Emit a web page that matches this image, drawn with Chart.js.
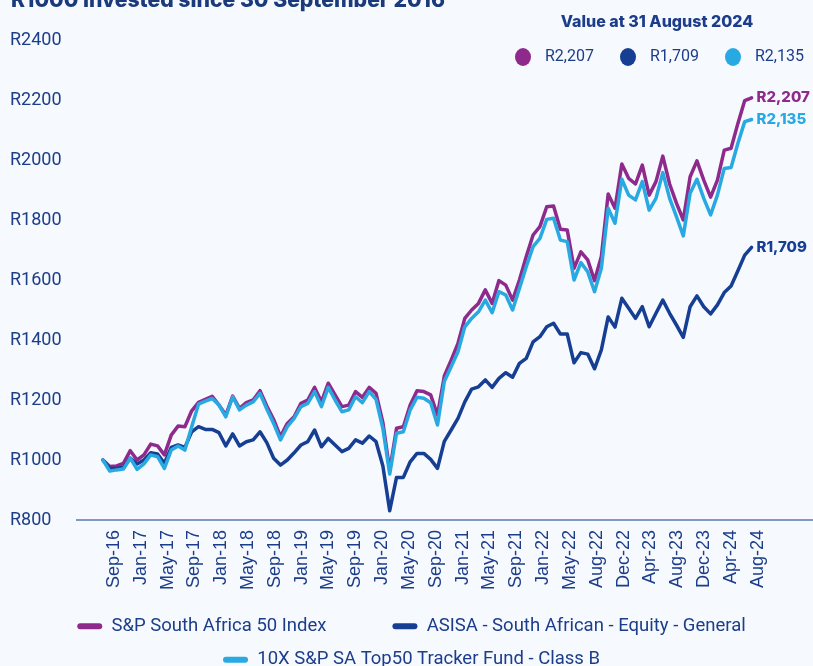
<!DOCTYPE html>
<html>
<head>
<meta charset="utf-8">
<script src="https://cdn.jsdelivr.net/npm/chart.js@4.4.1/dist/chart.umd.min.js"></script>
<style>
    html, body { margin: 0; padding: 0; background: #f6f9fe; overflow: hidden; }
    #wrap { position: relative; width: 813px; height: 679px; }
</style>
</head>
<body>
<div id="wrap"><canvas id="fundChart"></canvas></div>
<script>
// tick labels on the x axis (as printed on the original)
const tickLabels = ["Sep-16", "Jan-17", "May-17", "Sep-17", "Jan-18", "May-18", "Sep-18", "Jan-19",
    "May-19", "Sep-19", "Jan-20", "May-20", "Sep-20", "Jan-21", "May-21", "Sep-21", "Jan-22",
    "May-22", "Aug-22", "Dec-22", "Apr-23", "Aug-23", "Dec-23", "Apr-24", "Aug-24"];

const seriesNames = ["S&P South Africa 50 Index", "ASISA - South African - Equity - General", "10X S&P SA Top50 Tracker Fund - Class B"];
const finalValues = ["R2,207", "R1,709", "R2,135"];
const colors = ["#8f2a8d", "#163f93", "#28a9e1"];

// month-end values of R1000, Sep-16 .. Aug-24
const sp50 = [1000, 978, 980, 989, 1031, 1000, 1017, 1053, 1047, 1017,
    1083, 1113, 1111, 1164, 1192, 1202, 1212, 1183, 1150, 1213,
    1172, 1191, 1200, 1231, 1180, 1135, 1078, 1122, 1144, 1189,
    1200, 1242, 1194, 1256, 1217, 1178, 1183, 1228, 1209, 1242,
    1222, 1125, 965, 1106, 1111, 1183, 1231, 1228, 1217, 1150,
    1280, 1333, 1389, 1472, 1500, 1522, 1567, 1522, 1598, 1583,
    1533, 1600, 1678, 1750, 1778, 1844, 1847, 1769, 1767, 1639,
    1694, 1667, 1598, 1678, 1887, 1839, 1987, 1939, 1920, 1983,
    1883, 1928, 2013, 1920, 1856, 1800, 1944, 1997, 1933, 1876,
    1933, 2033, 2039, 2122, 2198, 2207];

const asisa = [1000, 972, 972, 976, 1006, 987, 1000, 1024, 1020, 989,
    1042, 1050, 1042, 1094, 1111, 1102, 1102, 1091, 1047, 1087,
    1047, 1061, 1067, 1094, 1058, 1006, 983, 1000, 1024, 1050,
    1061, 1100, 1044, 1072, 1050, 1028, 1039, 1067, 1056, 1080,
    1061, 980, 831, 942, 942, 994, 1022, 1022, 1002, 972,
    1062, 1100, 1139, 1194, 1236, 1244, 1267, 1242, 1272, 1291,
    1276, 1322, 1339, 1394, 1411, 1444, 1456, 1420, 1420, 1324,
    1358, 1353, 1304, 1367, 1477, 1443, 1539, 1506, 1472, 1511,
    1444, 1489, 1533, 1489, 1450, 1409, 1511, 1547, 1511, 1487,
    1517, 1558, 1580, 1631, 1683, 1709];

const tracker = [1000, 963, 967, 970, 1006, 969, 987, 1017, 1011, 972,
    1033, 1047, 1033, 1111, 1186, 1196, 1205, 1183, 1144, 1211,
    1167, 1183, 1194, 1222, 1170, 1122, 1067, 1111, 1139, 1178,
    1189, 1228, 1178, 1242, 1200, 1161, 1167, 1211, 1191, 1228,
    1202, 1105, 953, 1089, 1094, 1167, 1209, 1206, 1191, 1117,
    1262, 1311, 1361, 1444, 1472, 1494, 1533, 1491, 1561, 1550,
    1500, 1572, 1644, 1711, 1739, 1802, 1806, 1733, 1728, 1600,
    1658, 1628, 1561, 1639, 1839, 1789, 1936, 1883, 1867, 1928,
    1833, 1872, 1958, 1872, 1811, 1747, 1889, 1936, 1872, 1817,
    1883, 1972, 1975, 2056, 2128, 2135];

const navyText = "#1c3d8a";

// x = month index
function toPoints(values) {
    return values.map((v, i) => ({ x: i, y: v }));
}

function makeDataset(idx, values, order) {
    return {
        label: seriesNames[idx],
        data: toPoints(values),
        borderColor: colors[idx],
        backgroundColor: colors[idx],
        borderWidth: 3.5,
        pointRadius: 0,
        tension: 0,
        borderJoinStyle: "round",
        borderCapStyle: "round",
        order: order,
    };
}

// extra texts: cut-off title, "value at" legend, end labels
const extrasPlugin = {
    id: "extras",
    afterDraw(chart) {
        const ctx = chart.ctx;
        ctx.save();

        // title (partly above the picture)
        let size = 22;
        ctx.font = `800 ${size}px Inter, Lato, sans-serif`;
        const w = ctx.measureText("R1000 invested since 30 September 2016").width;
        size = size * 434 / w;
        ctx.font = `800 ${size}px Inter, Lato, sans-serif`;
        ctx.fillStyle = "#1a3a7b";
        ctx.textAlign = "left";
        ctx.textBaseline = "alphabetic";
        ctx.fillText("R1000 invested since 30 September 2016", 11, 6.5);

        // value legend
        ctx.font = "800 16px Inter, Lato, sans-serif";
        ctx.textAlign = "center";
        ctx.textBaseline = "middle";
        ctx.fillStyle = navyText;
        ctx.fillText("Value at 31 August 2024", 657, 22);

        const dotX = [523, 628, 733];
        ctx.font = "16px Roboto, sans-serif";
        ctx.textAlign = "left";
        finalValues.forEach((txt, i) => {
            ctx.beginPath();
            ctx.ellipse(dotX[i], 57, 8, 9, 0, 0, Math.PI * 2);
            ctx.fillStyle = colors[i];
            ctx.fill();
            ctx.fillStyle = navyText;
            ctx.fillText(txt, dotX[i] + 22, 57);
        });

        // end labels next to the last point of each line
        ctx.font = "800 15px Inter, Lato, sans-serif";
        chart.data.datasets.forEach((ds) => {
            const idx = seriesNames.indexOf(ds.label);
            const last = ds.data[ds.data.length - 1];
            const x = chart.scales.x.getPixelForValue(last.x) + 5;
            const y = chart.scales.y.getPixelForValue(last.y);
            ctx.fillStyle = colors[idx];
            ctx.fillText(finalValues[idx], x, y);
        });

        ctx.restore();
    },
};

const ctx = document.getElementById("fundChart").getContext("2d");

window.myChart = new Chart(ctx, {
    type: "line",
    data: {
        datasets: [
            makeDataset(0, sp50, 2),
            makeDataset(1, asisa, 1),
            makeDataset(2, tracker, 0),
        ],
    },
    options: {
        responsive: true,
        maintainAspectRatio: false,
        animation: false,
        devicePixelRatio: 1,
        layout: {
            padding: { left: 10, right: 0, top: 40, bottom: 0 },
        },
        plugins: {
            tooltip: { enabled: false },
            legend: {
                position: "bottom",
                labels: {
                    color: navyText,
                    font: { family: "Roboto", size: 18.5 },
                    boxWidth: 25,
                    boxHeight: 6,
                    useBorderRadius: true,
                    borderRadius: 3,
                    padding: 15,
                    sort: (a, b) => a.datasetIndex - b.datasetIndex,
                    generateLabels: (chart) => {
                        const items = Chart.defaults.plugins.legend.labels.generateLabels(chart);
                        return items.map((it) => ({
                            ...it,
                            lineWidth: 0,
                            // wider gap after the first entry, as on the original
                            text: it.datasetIndex === 0 ? it.text + "\u2003\u2003\u2002\u2009" : it.text,
                        }));
                    },
                },
            },
        },
        scales: {
            x: {
                type: "linear",
                min: -3.8,
                max: 104,
                afterBuildTicks: (axis) => {
                    axis.ticks = tickLabels.map((_, k) => ({ value: 1.6 + 3.93 * k }));
                },
                afterFit: (axis) => {
                    axis.height = 82;
                    axis.paddingLeft = 0;
                    axis.paddingRight = 0;
                },
                ticks: {
                    autoSkip: false,
                    maxRotation: 90,
                    minRotation: 90,
                    padding: 10,
                    color: navyText,
                    font: { family: "'Liberation Sans', Arial, sans-serif", size: 18 },
                    callback: (value, index) => tickLabels[index],
                },
                grid: { display: true, drawOnChartArea: false, drawTicks: false },
                border: { display: true, color: "#7e99c7", width: 2 },
            },
            y: {
                min: 800,
                max: 2400,
                afterFit: (axis) => {
                    axis.width = 67;
                },
                ticks: {
                    stepSize: 200,
                    padding: 14,
                    crossAlign: "far",
                    color: navyText,
                    font: { family: "Roboto", size: 18 },
                    callback: (value) => "R" + value,
                },
                grid: { display: false, drawTicks: false },
                border: { display: false },
            },
        },
    },
    plugins: [extrasPlugin],
});
</script>
</body>
</html>
